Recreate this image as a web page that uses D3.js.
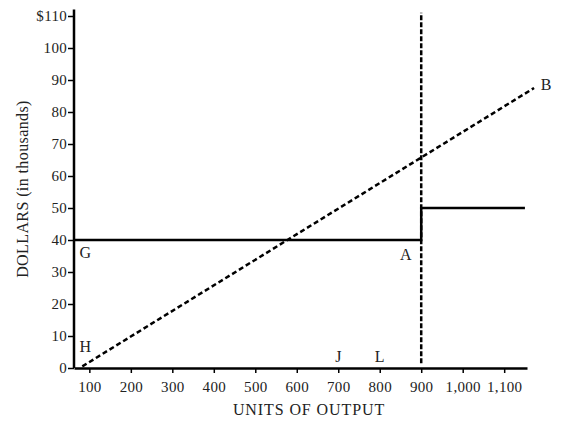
<!DOCTYPE html>
<html>
<head>
<meta charset="utf-8">
<script src="https://cdn.jsdelivr.net/npm/d3@7"></script>
<style>
  body { margin: 0; background: #fff; }
  text { font-family: "Liberation Serif", "DejaVu Serif", serif; fill: #222; }
</style>
</head>
<body>
<div id="chart"></div>
<script>
const svgWidth = 568;
const svgHeight = 424;

// Data (dollars in thousands vs units of output)
const xTicks = [100, 200, 300, 400, 500, 600, 700, 800, 900, 1000, 1100];
const yTicks = [0, 10, 20, 30, 40, 50, 60, 70, 80, 90, 100, 110];

// fixed cost line: 40 up to capacity, then steps up to 50
const costUnits = [63, 900, 900, 1150];
const costValues = [40, 40, 50, 50];

// revenue line H -> B
const revenueUnits = [83, 1172];
const revenueValues = [0.5, 87.5];

// capacity line at 900 units
const capacityUnits = [900, 900];
const capacityValues = [1.5, 111];

const pointNames = ['B', 'G', 'A', 'H', 'J', 'L'];
const pointUnits = [1188, 90, 863, 90, 700, 800];
const pointValues = [86.9, 34.4, 33.8, 5, 1.9, 1.9];

const margin = { top: 16, right: 41, bottom: 56, left: 74 };
const chartWidth = svgWidth - margin.left - margin.right;
const chartHeight = svgHeight - margin.top - margin.bottom;

const svg = d3.select('#chart').append('svg')
  .attr('width', svgWidth).attr('height', svgHeight);

const g = svg.append('g').attr('transform', `translate(${margin.left},${margin.top})`);

const x = d3.scaleLinear().domain([63, 1155]).range([0, chartWidth]);
const y = d3.scaleLinear().domain([0, 110]).range([chartHeight, 0]);

const line = d3.line().x(d => x(d[0])).y(d => y(d[1]));

// axes
const xAxis = g.append('g')
  .attr('transform', `translate(0,${chartHeight})`)
  .call(d3.axisBottom(x).tickValues(xTicks).tickSize(5).tickSizeOuter(0)
    .tickFormat(d3.format(',')));

const yAxis = g.append('g')
  .call(d3.axisLeft(y).tickValues(yTicks).tickSize(6).tickSizeOuter(0)
    .tickFormat(d => d === 110 ? '$110' : d));

[xAxis, yAxis].forEach(a => {
  a.select('.domain').attr('stroke', '#000').attr('stroke-width', 2.5);
  a.selectAll('.tick line').attr('stroke', '#000').attr('stroke-width', 1.5);
  a.selectAll('.tick text')
    .style('font-family', '"Liberation Serif", serif')
    .style('font-size', '15px')
    .style('letter-spacing', '0.3px')
    .attr('fill', '#222');
});
xAxis.selectAll('.tick text').attr('dy', '1.05em');
yAxis.selectAll('.tick text').attr('x', -7);

// extend y axis line a bit above the top tick
yAxis.select('.domain').attr('d', `M0,${chartHeight}V${y(112)}`);

// fixed cost (solid)
g.append('path')
  .datum(costUnits.map((u, i) => [u, costValues[i]]))
  .attr('d', line)
  .attr('fill', 'none')
  .attr('stroke', '#000')
  .attr('stroke-width', 2.5);

// revenue (dashed)
g.append('path')
  .datum(revenueUnits.map((u, i) => [u, revenueValues[i]]))
  .attr('d', line)
  .attr('fill', 'none')
  .attr('stroke', '#000')
  .attr('stroke-width', 2.5)
  .attr('stroke-dasharray', '5,3');

// capacity (dashed vertical)
g.append('path')
  .datum(capacityUnits.map((u, i) => [u, capacityValues[i]]))
  .attr('d', line)
  .attr('fill', 'none')
  .attr('stroke', '#000')
  .attr('stroke-width', 2.5)
  .attr('stroke-dasharray', '5,2');

// point letters
g.selectAll('.pt')
  .data(pointNames)
  .enter()
  .append('text')
  .attr('class', 'pt')
  .attr('x', (d, i) => x(pointUnits[i]))
  .attr('y', (d, i) => y(pointValues[i]))
  .attr('text-anchor', d => d === 'B' ? 'start' : 'middle')
  .style('font-size', '16px')
  .text(d => d);

// axis titles
svg.append('text')
  .attr('x', 309)
  .attr('y', svgHeight - 9)
  .attr('text-anchor', 'middle')
  .style('font-size', '16px')
  .style('letter-spacing', '0.9px')
  .text('UNITS OF OUTPUT');

svg.append('text')
  .attr('transform', 'rotate(-90)')
  .attr('x', -189)
  .attr('y', 28)
  .attr('text-anchor', 'middle')
  .style('font-size', '16px')
  .style('letter-spacing', '0.4px')
  .text('DOLLARS (in thousands)');
</script>
</body>
</html>
